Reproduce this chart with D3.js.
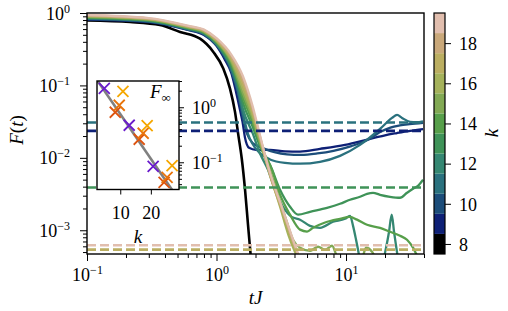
<!DOCTYPE html>
<html><head><meta charset="utf-8">
<script src="https://cdn.jsdelivr.net/npm/d3@7"></script>
<style>body{margin:0;background:#fff}svg{display:block}</style>
</head><body><svg id="c" width="508" height="311"></svg>
<script>
// ---------------- data ----------------
const kValues = [8,9,10,11,12,13,14,15,16,17,18,19];
const kColors = ['#000000','#0e2076','#1c4d7a','#2a717e','#358772','#3f9358','#579f4a','#82a954','#a5b25b','#bbae61','#c9a87a','#e1beae'];

const curve8  = [[0.1,0.788],[0.215,0.751],[0.366,0.683],[0.523,0.547],[0.746,0.442],[0.945,0.290],[1.128,0.171],[1.271,0.0903],[1.389,0.0431],[1.474,0.0206],[1.566,0.0098],[1.661,0.00362],[1.751,0.00119],[1.831,0.000474],[1.88,0.0003]];
const curve9  = [[0.1,0.813],[0.3,0.751],[0.6,0.583],[0.8,0.497],[1.0,0.351],[1.163,0.225],[1.301,0.149],[1.415,0.0813],[1.519,0.0459],[1.588,0.0314],[1.66,0.0189],[1.782,0.01374],[2.018,0.01289],[2.589,0.01289],[3.381,0.0123],[4.414,0.0122],[6.30,0.0133],[9.82,0.0151],[15.32,0.0183],[20.0,0.0205],[24.77,0.0220],[31.2,0.0236],[39.33,0.0250]];
const curve10 = [[0.1,0.825],[0.3,0.760],[0.6,0.591],[0.8,0.506],[1.0,0.359],[1.3,0.158],[1.45,0.085],[1.6,0.036],[1.72,0.0215],[1.9,0.0160],[2.3,0.0135],[2.8,0.0120],[3.5,0.0112],[4.5,0.0110],[6.0,0.0115],[8.0,0.0125],[11,0.0145],[15,0.0180],[18.3,0.0227],[22,0.0262],[26,0.0280],[31,0.0292],[39.33,0.0305]];
const curve11 = [[0.1,0.837],[0.3,0.769],[0.6,0.599],[0.8,0.515],[1.0,0.368],[1.3,0.167],[1.45,0.090],[1.6,0.041],[1.75,0.0215],[1.88,0.0160],[2.168,0.0115],[2.589,0.0095],[3.381,0.00853],[4.414,0.0083],[6.30,0.00881],[8.99,0.01066],[12.83,0.0151],[18.30,0.0251],[22.66,0.0356],[24.77,0.0392],[27.07,0.0356],[31.2,0.0314],[35,0.0310],[39.33,0.0319]];
const curve12 = [[0.1,0.849],[0.3,0.779],[0.6,0.607],[0.8,0.524],[1.0,0.377],[1.3,0.178],[1.45,0.105],[1.6,0.047],[1.9,0.022],[2.168,0.0115],[2.499,0.00683],[2.829,0.00362],[3.263,0.00211],[3.8,0.00153],[4.414,0.0014],[5.272,0.00115],[6.30,0.00108],[7.94,0.00131],[9.82,0.00144],[10.74,0.00158],[11.33,0.00115],[11.95,0.00074],[12.38,0.000538],[12.83,0.0004],[19.31,0.0004],[20.37,0.000574],[21.48,0.000953],[22.53,0.00164],[23.48,0.000953],[24.34,0.000611],[25.21,0.0004]];
const curve13 = [[0.1,0.861],[0.3,0.789],[0.6,0.616],[0.8,0.533],[1.0,0.386],[1.3,0.188],[1.45,0.115],[1.6,0.058],[1.9,0.027],[2.2,0.0135],[2.589,0.0080],[3.093,0.00362],[3.695,0.00211],[4.26,0.00164],[5.272,0.0018],[7.134,0.00204],[8.99,0.00232],[10.74,0.00264],[12.83,0.0029],[14.53,0.00319],[16.16,0.00329],[18.3,0.00309],[21.87,0.0029],[26.12,0.00281],[29.58,0.00329],[32.92,0.00374],[35.97,0.00411],[39.33,0.00498]];
const curve14 = [[0.1,0.873],[0.3,0.799],[0.6,0.624],[0.8,0.542],[1.0,0.395],[1.3,0.200],[1.6,0.068],[1.9,0.031],[2.2,0.0145],[2.68,0.0068],[3.093,0.0031],[3.695,0.00164],[4.414,0.00102],[5.0,0.00096],[5.562,0.00108],[6.885,0.00128],[8.99,0.00144],[10.74,0.00153],[12.16,0.0014],[14.53,0.00119],[18.3,0.00108],[21.87,0.000953],[26.12,0.00084],[29.58,0.00074],[32.92,0.000574],[35.35,0.00045],[37,0.0004]];
const curve15 = [[0.1,0.886],[0.3,0.809],[0.6,0.633],[0.8,0.552],[1.0,0.405],[1.3,0.212],[1.6,0.078],[1.9,0.035],[2.2,0.0150],[2.5,0.0080],[2.985,0.00309],[3.442,0.0014],[3.896,0.00074],[4.414,0.000574],[5.272,0.000521],[6.08,0.000592],[6.885,0.000538],[7.80,0.000611],[8.68,0.00042],[13.29,0.00042],[14.27,0.000574],[15.88,0.000505],[17.0,0.0004]];
const curve16 = [[0.1,0.898],[0.3,0.819],[0.6,0.642],[0.8,0.561],[1.0,0.415],[1.3,0.224],[1.6,0.090],[1.9,0.039],[2.2,0.0160],[2.6,0.0058],[3.1,0.0021],[3.6,0.00085],[4.0,0.00052],[4.3,0.0004]];
const curve17 = [[0.1,0.911],[0.3,0.829],[0.6,0.651],[0.8,0.570],[1.0,0.426],[1.3,0.238],[1.6,0.104],[1.9,0.043],[2.2,0.0170],[2.6,0.0056],[3.2,0.0019],[4.0,0.0006],[4.4,0.0004]];
const curve18 = [[0.1,0.924],[0.3,0.839],[0.6,0.660],[0.8,0.580],[1.0,0.437],[1.3,0.252],[1.6,0.119],[1.9,0.047],[2.2,0.0176],[2.6,0.0058],[3.2,0.0020],[4.0,0.00062],[4.4,0.0004]];
const curve19 = [[0.1,0.938],[0.3,0.850],[0.6,0.670],[0.8,0.590],[1.0,0.449],[1.3,0.267],[1.6,0.134],[1.9,0.0518],[2.2,0.0183],[2.6,0.00607],[3.2,0.00207],[4.0,0.00065],[4.4,0.0004]];

const dashK = [9,11,13,17,19];
const dashF = [0.0236,0.0307,0.0039,0.00054,0.00062];

const insetPurpleK = [4.79,12.93,20.75];
const insetPurpleF = [2.21,0.471,0.0846];
const insetYellowK = [10.88,18.79,26.94];
const insetYellowF = [1.95,0.465,0.0871];
const insetOrangeAK = [9.67,17.49,25.31];
const insetOrangeAF = [1.087,0.337,0.0534];
const insetOrangeBK = [8.37,16.19,24.33];
const insetOrangeBF = [0.811,0.262,0.0433];
const insetFitK = [2.4,29.2];
const insetFitF = [3.13,0.0206];

const xMajorTicks = [0.1,1,10];
const yMajorTicks = [0.001,0.01,0.1,1];
const cbarTicks = [8,10,12,14,16,18];
const insetXTicks = [10,20];
const insetYTicks = [0.1,1];

// ---------------- drawing ----------------
const FONT = "'Liberation Serif', 'Times New Roman', serif";
const svg = d3.select('#c');
const M = {l:87, r:424, t:13, b:254};
const x = d3.scaleLog().domain([0.1,40]).range([M.l,M.r]);
const y = d3.scaleLog().domain([4.7e-4,1]).range([M.b,M.t]);

function minorTicks(dom){
  const out=[]; const lo=Math.floor(Math.log10(dom[0])), hi=Math.ceil(Math.log10(dom[1]));
  for(let e=lo;e<=hi;e++) for(let m=2;m<=9;m++){const v=m*Math.pow(10,e); if(v>=dom[0]*0.999&&v<=dom[1]*1.001) out.push(v);}
  return out;
}
function sup(sel, v){
  const e=Math.round(Math.log10(v));
  sel.text(null);
  sel.append('tspan').text('10');
  sel.append('tspan').attr('dy',-7).attr('font-size',12).text(e<0?'\u2212'+(-e):String(e));
}

svg.append('clipPath').attr('id','clipMain').append('rect')
  .attr('x',M.l).attr('y',M.t).attr('width',M.r-M.l).attr('height',M.b-M.t);

const plot = svg.append('g').attr('clip-path','url(#clipMain)');
const curves = [curve8,curve9,curve10,curve11,curve12,curve13,curve14,curve15,curve16,curve17,curve18,curve19];
const line = d3.line().x(d=>x(d[0])).y(d=>y(d[1])).curve(d3.curveMonotoneX);
curves.forEach((c,i)=>{
  plot.append('path').attr('d',line(c)).attr('fill','none')
    .attr('stroke',kColors[i]).attr('stroke-width', i===0?2.6:2.3).attr('stroke-linejoin','round');
});
dashK.forEach((k,i)=>{
  plot.append('line').attr('x1',M.l).attr('x2',M.r).attr('y1',y(dashF[i])).attr('y2',y(dashF[i]))
    .attr('stroke',kColors[kValues.indexOf(k)]).attr('stroke-width',2.6).attr('stroke-dasharray','9,4');
});

// axes
const gx = svg.append('g').attr('transform',`translate(0,${M.b})`);
gx.call(d3.axisBottom(x).tickValues(minorTicks(x.domain())).tickSize(4).tickFormat(()=>''));
gx.call(g=>g.selectAll('.domain').remove());
const gx2 = svg.append('g').attr('transform',`translate(0,${M.b})`);
gx2.call(d3.axisBottom(x).tickValues(xMajorTicks).tickSize(7).tickFormat(()=>''));
gx2.select('.domain').remove();
gx2.selectAll('.tick text').attr('y',27).attr('dy',0).attr('font-size',18).each(function(d){sup(d3.select(this),d);});

const gy = svg.append('g').attr('transform',`translate(${M.l},0)`);
gy.call(d3.axisLeft(y).tickValues(minorTicks(y.domain())).tickSize(4).tickFormat(()=>''));
gy.select('.domain').remove();
const gy2 = svg.append('g').attr('transform',`translate(${M.l},0)`);
gy2.call(d3.axisLeft(y).tickValues(yMajorTicks).tickSize(7).tickFormat(()=>''));
gy2.select('.domain').remove();
gy2.selectAll('.tick text').attr('x',-17).attr('dy',0).attr('y',6).attr('font-size',18).each(function(d){sup(d3.select(this),d);});
svg.selectAll('.tick line').attr('stroke','#000').attr('stroke-width',1);

svg.append('rect').attr('x',M.l).attr('y',M.t).attr('width',M.r-M.l).attr('height',M.b-M.t)
  .attr('fill','none').attr('stroke','#000').attr('stroke-width',1.4);

// axis labels
const yl = svg.append('text').attr('transform',`translate(23,130) rotate(-90)`).attr('text-anchor','middle').attr('font-size',19);
yl.append('tspan').attr('font-style','italic').text('F');
yl.append('tspan').text('(');
yl.append('tspan').attr('font-style','italic').text('t');
yl.append('tspan').text(')');
svg.append('text').attr('x',(M.l+M.r)/2).attr('y',304).attr('text-anchor','middle').attr('font-size',19).attr('font-style','italic').text('tJ');

// colorbar
const C = {l:434, r:445, t:13, b:254};
const cy = d3.scaleLinear().domain([7.5,19.5]).range([C.b,C.t]);
kValues.forEach((k,i)=>{
  svg.append('rect').attr('x',C.l).attr('width',C.r-C.l).attr('y',cy(k+0.5)).attr('height',cy(k-0.5)-cy(k+0.5)).attr('fill',kColors[i]);
});
svg.append('rect').attr('x',C.l).attr('y',C.t).attr('width',C.r-C.l).attr('height',C.b-C.t).attr('fill','none').attr('stroke','#000').attr('stroke-width',1.2);
const gc = svg.append('g').attr('transform',`translate(${C.r},0)`);
gc.call(d3.axisRight(cy).tickValues(cbarTicks).tickSize(6).tickPadding(8));
gc.select('.domain').remove();
gc.selectAll('.tick text').attr('font-size',18).attr('dy','0.35em');
gc.selectAll('.tick line').attr('stroke','#000');
svg.append('text').attr('transform','translate(498,133) rotate(-90)').attr('text-anchor','middle').attr('font-size',19).attr('font-style','italic').text('k');

// inset
const I = {l:97, r:179, t:81, b:189.5};
const ix = d3.scaleLinear().domain([2.4,29.2]).range([I.l,I.r]);
const iy = d3.scaleLog().domain([0.032,3.0]).range([I.b,I.t]);
svg.append('rect').attr('x',I.l).attr('y',I.t).attr('width',I.r-I.l).attr('height',I.b-I.t).attr('fill','#fff');
svg.append('clipPath').attr('id','clipInset').append('rect').attr('x',I.l).attr('y',I.t).attr('width',I.r-I.l).attr('height',I.b-I.t);
const ip = svg.append('g').attr('clip-path','url(#clipInset)');
ip.append('path').attr('d',d3.line().x(d=>ix(d[0])).y(d=>iy(d[1]))(insetFitK.map((k,i)=>[k,insetFitF[i]])))
  .attr('stroke','#808080').attr('stroke-width',2.6).attr('fill','none');
const crossPath = 'M-5.5,-5.5L5.5,5.5M-5.5,5.5L5.5,-5.5';
[[insetPurpleK,insetPurpleF,'#6a1ccc'],[insetOrangeBK,insetOrangeBF,'#dd5410'],[insetOrangeAK,insetOrangeAF,'#e8740c'],[insetYellowK,insetYellowF,'#f5a700']].forEach(([ks,fs,col])=>{
  ks.forEach((k,i)=>{
    ip.append('path').attr('d',crossPath).attr('transform',`translate(${ix(k)},${iy(fs[i])})`).attr('stroke',col).attr('stroke-width',1.8).attr('fill','none');
  });
});
const gix = svg.append('g').attr('transform',`translate(0,${I.b})`);
gix.call(d3.axisBottom(ix).tickValues(insetXTicks).tickSize(5).tickPadding(4));
gix.select('.domain').remove();
gix.selectAll('.tick text').attr('font-size',18).attr('dy',0).attr('y',29);
const giy = svg.append('g').attr('transform',`translate(${I.r},0)`);
giy.call(d3.axisRight(iy).tickValues(minorTicks(iy.domain())).tickSize(3).tickFormat(()=>''));
giy.select('.domain').remove();
const giy2 = svg.append('g').attr('transform',`translate(${I.r},0)`);
giy2.call(d3.axisRight(iy).tickValues(insetYTicks).tickSize(5).tickFormat(()=>''));
giy2.select('.domain').remove();
giy2.selectAll('.tick text').attr('x',13).attr('dy',0).attr('y',6).attr('font-size',18).each(function(d){sup(d3.select(this),d);});
svg.selectAll('.tick line').attr('stroke','#000');
svg.append('rect').attr('x',I.l).attr('y',I.t).attr('width',I.r-I.l).attr('height',I.b-I.t).attr('fill','none').attr('stroke','#000').attr('stroke-width',1.4);
const fi = svg.append('text').attr('x',150).attr('y',98).attr('font-size',19);
fi.append('tspan').attr('font-style','italic').text('F');
fi.append('tspan').attr('dy',4).attr('font-size',13).text('\u221e');
svg.append('text').attr('x',(I.l+I.r)/2).attr('y',243).attr('text-anchor','middle').attr('font-size',19).attr('font-style','italic').text('k');

// force serif font everywhere (axis groups default to sans-serif)
svg.selectAll('g').attr('font-family',null);
svg.selectAll('text').style('font-family',FONT).style('fill','#000');
</script></body></html>
